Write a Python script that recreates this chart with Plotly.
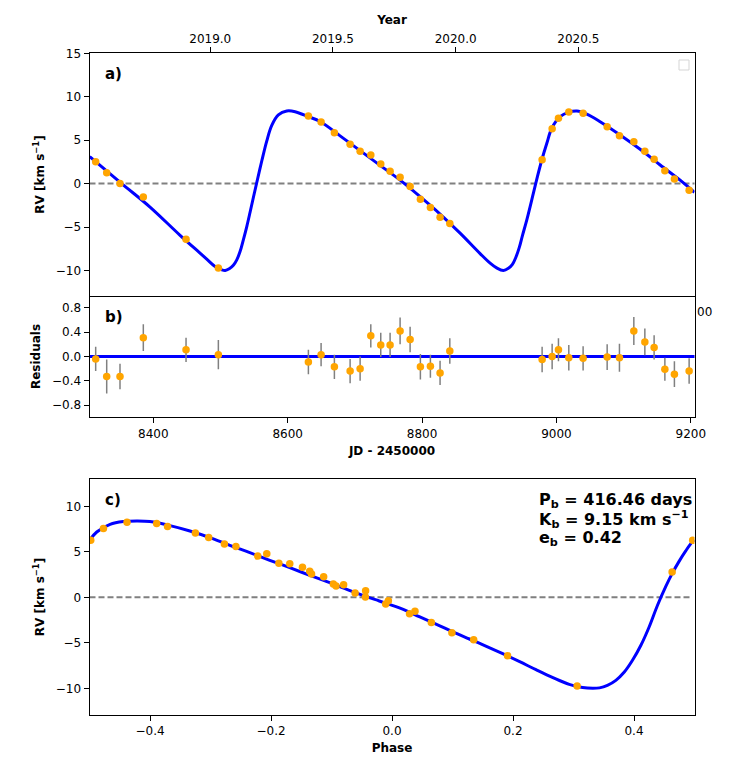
import plotly.graph_objects as go

# the page body keeps an 8 px margin, so the figure is 8 px smaller each way
PAGE_W, PAGE_H = 747, 769
OFF = 8
W, H = PAGE_W - 2 * OFF, PAGE_H - 2 * OFF

# observation epochs (JD - 2450000), RVs and residuals
jd = [8314.2, 8330.6, 8350.4, 8385.1, 8448.7, 8496.8, 8630.8, 8649.7, 8669.5,
      8692.9, 8707.8, 8723.7, 8738.5, 8752.4, 8767.3, 8782.2, 8797.5, 8812.4,
      8826.8, 8841.3, 8978.7, 8993.6, 9003.0, 9018.4, 9039.7, 9075.5, 9093.8,
      9115.2, 9131.6, 9145.4, 9161.4, 9175.6, 9197.5]
rv = [2.53, 1.26, 0.00, -1.53, -6.39, -9.72, 7.78, 7.09, 5.86, 4.53, 3.72,
      3.30, 2.26, 1.43, 0.74, -0.34, -1.79, -2.76, -3.86, -4.60, 2.76, 6.32,
      7.52, 8.24, 8.09, 6.55, 5.52, 4.83, 3.72, 2.80, 1.49, 0.54, -0.76]
resid = [-0.04, -0.33, -0.33, 0.31, 0.11, 0.03, -0.09, 0.03, -0.17, -0.24,
         -0.20, 0.34, 0.19, 0.19, 0.42, 0.28, -0.17, -0.16, -0.27, 0.09,
         -0.05, 0.00, 0.11, -0.02, -0.03, -0.01, -0.02, 0.42, 0.24, 0.15,
         -0.21, -0.29, -0.24]
resid_err = [0.20, 0.28, 0.21, 0.22, 0.20, 0.24, 0.20, 0.19, 0.20, 0.20, 0.20,
             0.19, 0.20, 0.20, 0.22, 0.21, 0.21, 0.19, 0.20, 0.21, 0.21, 0.21,
             0.19, 0.21, 0.20, 0.21, 0.23, 0.23, 0.22, 0.20, 0.19, 0.21, 0.21]

# fitted orbit
model_jd = [8305.3, 8353.0, 8395.1, 8439.8, 8469.5, 8479.5, 8491.9, 8501.8,
            8507.0, 8513.0, 8519.1, 8524.2, 8529.1, 8534.0, 8539.1, 8544.0,
            8548.9, 8553.9, 8561.4, 8568.8, 8576.3, 8586.1, 8598.6, 8611.0,
            8630.8, 8648.2, 8678.0, 8707.7, 8737.5, 8767.3, 8797.1, 8826.8,
            8856.6, 8886.4, 8901.3, 8911.0, 8921.1, 8928.5, 8934.5, 8939.5,
            8944.5, 8949.5, 8955.9, 8965.7, 8971.7, 8978.2, 8985.7, 8993.1,
            9005.5, 9017.9, 9030.4, 9045.2, 9065.0, 9094.8, 9124.6, 9154.4,
            9184.1, 9205.4]
model_rv = [3.1, 0.0, -2.7, -5.95, -8.0, -8.69, -9.54, -9.92,
            -10.0, -9.80, -9.40, -8.77, -7.82, -6.47, -4.94, -3.3,
            -1.6, 0.1, 2.6, 4.9, 6.7, 7.9, 8.36, 8.28,
            7.70, 7.15, 5.5, 3.8, 2.1, 0.4, -1.5, -3.5,
            -5.7, -8.05, -9.15, -9.7, -10.0, -9.75, -9.3, -8.5,
            -7.4, -5.95, -4.17, -1.1, 0.8, 2.72, 4.64, 6.37,
            7.70, 8.2, 8.36, 8.0, 7.13, 5.6, 3.95, 2.15,
            0.4, -1.0]

# phase-folded points and orbit (panel c)
phase = [-0.498, -0.477, -0.438, -0.389, -0.371, -0.325, -0.303, -0.277,
         -0.258, -0.222, -0.207, -0.187, -0.169, -0.148, -0.136, -0.133,
         -0.113, -0.097, -0.0925, -0.080, -0.061, -0.0436, -0.044, -0.0104,
         -0.006, 0.029, 0.038, 0.065, 0.099, 0.135, 0.191, 0.306, 0.463, 0.497]
phase_rv = [6.26, 7.55, 8.24, 8.10, 7.77, 7.07, 6.56, 5.86, 5.57, 4.54, 4.80,
            3.74, 3.70, 3.30, 2.86, 2.56, 2.27, 1.46, 1.24, 1.39, 0.48, 0.73,
            0.04, -0.73, -0.37, -1.80, -1.54, -2.78, -3.88, -4.65, -6.41,
            -9.74, 2.78, 6.26]
model_phase = [-0.5, -0.488, -0.466, -0.444, -0.422, -0.40, -0.367, -0.334,
               -0.301, -0.268, -0.235, -0.202, -0.169, -0.136, -0.103, -0.0705,
               -0.0376, -0.021, 0.0186, 0.046, 0.0736, 0.101, 0.128, 0.156,
               0.183, 0.211, 0.238, 0.266, 0.293, 0.315, 0.332, 0.343, 0.356,
               0.370, 0.384, 0.3975, 0.4114, 0.425, 0.4387, 0.4526, 0.463,
               0.4745, 0.4855, 0.4964, 0.5]
model_phase_rv = [6.26, 7.18, 8.02, 8.32, 8.38, 8.32, 7.88, 7.29, 6.56, 5.71,
                  4.91, 4.07, 3.26, 2.42, 1.61, 0.77, -0.03, -0.40, -1.32,
                  -2.16, -2.97, -3.81, -4.58, -5.38, -6.19, -7.07, -7.95,
                  -8.82, -9.56, -9.92, -10.0, -9.95, -9.67, -9.12, -8.21,
                  -6.92, -5.27, -3.26, -0.9, 1.2, 2.6, 3.95, 5.1, 6.1, 6.3]

years = [2019.0, 2019.5, 2020.0, 2020.5]
year_labels = ["2019.0", "2019.5", "2020.0", "2020.5"]
year_jd = [2451545.0 + (y - 2000.0) * 365.25 - 2450000 for y in years]

jd_range = [8305.0, 9205.5]


def pxx(x):
    # page pixel -> paper fraction
    return (x - OFF) / W


def pxy(y):
    return 1 - (y - OFF) / H


FONT = "DejaVu Sans"
BLUE = "#0000ff"
ORANGE = "#ffa500"
GRAY = "#808080"

fig = go.Figure()

# panel a
fig.add_trace(go.Scatter(x=model_jd, y=model_rv, mode="lines", line_shape="spline",
                         line=dict(color=BLUE, width=3), xaxis="x", yaxis="y"))
fig.add_trace(go.Scatter(x=jd, y=rv, mode="markers",
                         marker=dict(color=ORANGE, size=7.5), xaxis="x", yaxis="y"))
# panel b
fig.add_trace(go.Scatter(x=jd, y=resid, mode="markers",
                         error_y=dict(type="data", array=resid_err, color=GRAY,
                                      thickness=1.5, width=0),
                         marker=dict(color=ORANGE, size=7.5), xaxis="x2", yaxis="y2"))
# panel c
fig.add_trace(go.Scatter(x=model_phase, y=model_phase_rv, mode="lines", line_shape="spline",
                         line=dict(color=BLUE, width=3), xaxis="x3", yaxis="y3"))
fig.add_trace(go.Scatter(x=phase, y=phase_rv, mode="markers",
                         marker=dict(color=ORANGE, size=7.5), xaxis="x3", yaxis="y3"))
# invisible trace so the top year axis is drawn
fig.add_trace(go.Scatter(x=jd_range, y=[0, 0], mode="lines", line=dict(width=0),
                         opacity=0, hoverinfo="skip", xaxis="x4", yaxis="y"))

xdom = [pxx(89.5), pxx(694.5)]
tickfont = dict(family=FONT, size=12, color="black")
titlefont = dict(family=FONT, size=12, color="black")

axis_common = dict(showline=True, linecolor="black", linewidth=1, mirror=True,
                   ticks="outside", ticklen=5, tickwidth=1, tickcolor="black",
                   showgrid=False, zeroline=False, tickfont=tickfont,
                   automargin=False)

fig.update_layout(
    width=W, height=H,
    margin=dict(l=0, r=0, t=0, b=0),
    paper_bgcolor="white", plot_bgcolor="white",
    showlegend=False,
    font=dict(family=FONT, size=12, color="black"),
    xaxis=dict(axis_common, domain=xdom, range=jd_range, anchor="y",
               showticklabels=False, ticks=""),
    yaxis=dict(axis_common, domain=[pxy(295.7), pxy(53.3)], range=[-12.9, 15],
               tickvals=[-10, -5, 0, 5, 10, 15], anchor="x",
               title=dict(text="<b>RV [km s<sup>−1</sup>]</b>", font=titlefont, standoff=8)),
    xaxis4=dict(axis_common, overlaying="x", side="top", range=jd_range, anchor="y",
                mirror=False, tickvals=year_jd, ticktext=year_labels,
                title=dict(text="<b>Year</b>", font=titlefont, standoff=4)),
    # top edge of panel b is drawn by the bottom line of panel a
    xaxis2=dict(axis_common, domain=xdom, range=jd_range, anchor="y2", mirror=False,
                tickvals=[8400, 8600, 8800, 9000, 9200],
                title=dict(text="<b>JD - 2450000</b>", font=titlefont, standoff=6)),
    yaxis2=dict(axis_common, domain=[pxy(417.3), pxy(295.7)], range=[-1.0, 1.0],
                tickvals=[-0.8, -0.4, 0.0, 0.4, 0.8], tickformat=".1f", anchor="x2",
                title=dict(text="<b>Residuals</b>", font=titlefont, standoff=8)),
    xaxis3=dict(axis_common, domain=xdom, range=[-0.5, 0.5], anchor="y3",
                tickvals=[-0.4, -0.2, 0.0, 0.2, 0.4], tickformat=".1f",
                title=dict(text="<b>Phase</b>", font=titlefont, standoff=6)),
    yaxis3=dict(axis_common, domain=[pxy(715), pxy(479)], range=[-12.93, 13.0],
                tickvals=[-10, -5, 0, 5, 10], anchor="x3",
                title=dict(text="<b>RV [km s<sup>−1</sup>]</b>", font=titlefont, standoff=8)),
)

# zero lines
fig.add_shape(type="line", xref="x domain", yref="y", x0=0, x1=1, y0=0, y1=0,
              line=dict(color=GRAY, width=2, dash="6px,3px"), layer="below")
fig.add_shape(type="line", xref="x2 domain", yref="y2", x0=0, x1=1, y0=0, y1=0,
              line=dict(color=BLUE, width=3), layer="below")
fig.add_shape(type="line", xref="x3 domain", yref="y3", x0=0, x1=0.995, y0=0, y1=0,
              line=dict(color=GRAY, width=2, dash="6px,3px"), layer="below")

# empty legend box of panel a
fig.add_shape(type="rect", xref="paper", yref="paper",
              x0=pxx(679), x1=pxx(689), y0=pxy(70), y1=pxy(60),
              line=dict(color="#d5d5d5", width=1), fillcolor="white")

panel_font = dict(family=FONT, size=15, color="black")
for label, ypix in [("a)", 74), ("b)", 317), ("c)", 500)]:
    fig.add_annotation(text=f"<b>{label}</b>", xref="paper", yref="paper",
                       x=pxx(103), y=pxy(ypix), xanchor="left", yanchor="middle",
                       showarrow=False, font=panel_font)

# tail of the hidden bottom tick label of panel a
fig.add_annotation(text="00", xref="paper", yref="paper", x=pxx(694.5), y=pxy(311.5),
                   xanchor="left", yanchor="middle", showarrow=False, font=tickfont)

param_font = dict(family=FONT, size=16, color="black")
params = ["<b>P<sub>b</sub> = 416.46 days</b>",
          "<b>K<sub>b</sub> = 9.15 km s<sup>−1</sup></b>",
          "<b>e<sub>b</sub> = 0.42</b>"]
for text, ypix in zip(params, [500, 520, 538]):
    fig.add_annotation(text=text, xref="paper", yref="paper", x=pxx(536.5), y=pxy(ypix),
                       xanchor="left", yanchor="middle", showarrow=False, font=param_font)

fig.write_html("out.html")
